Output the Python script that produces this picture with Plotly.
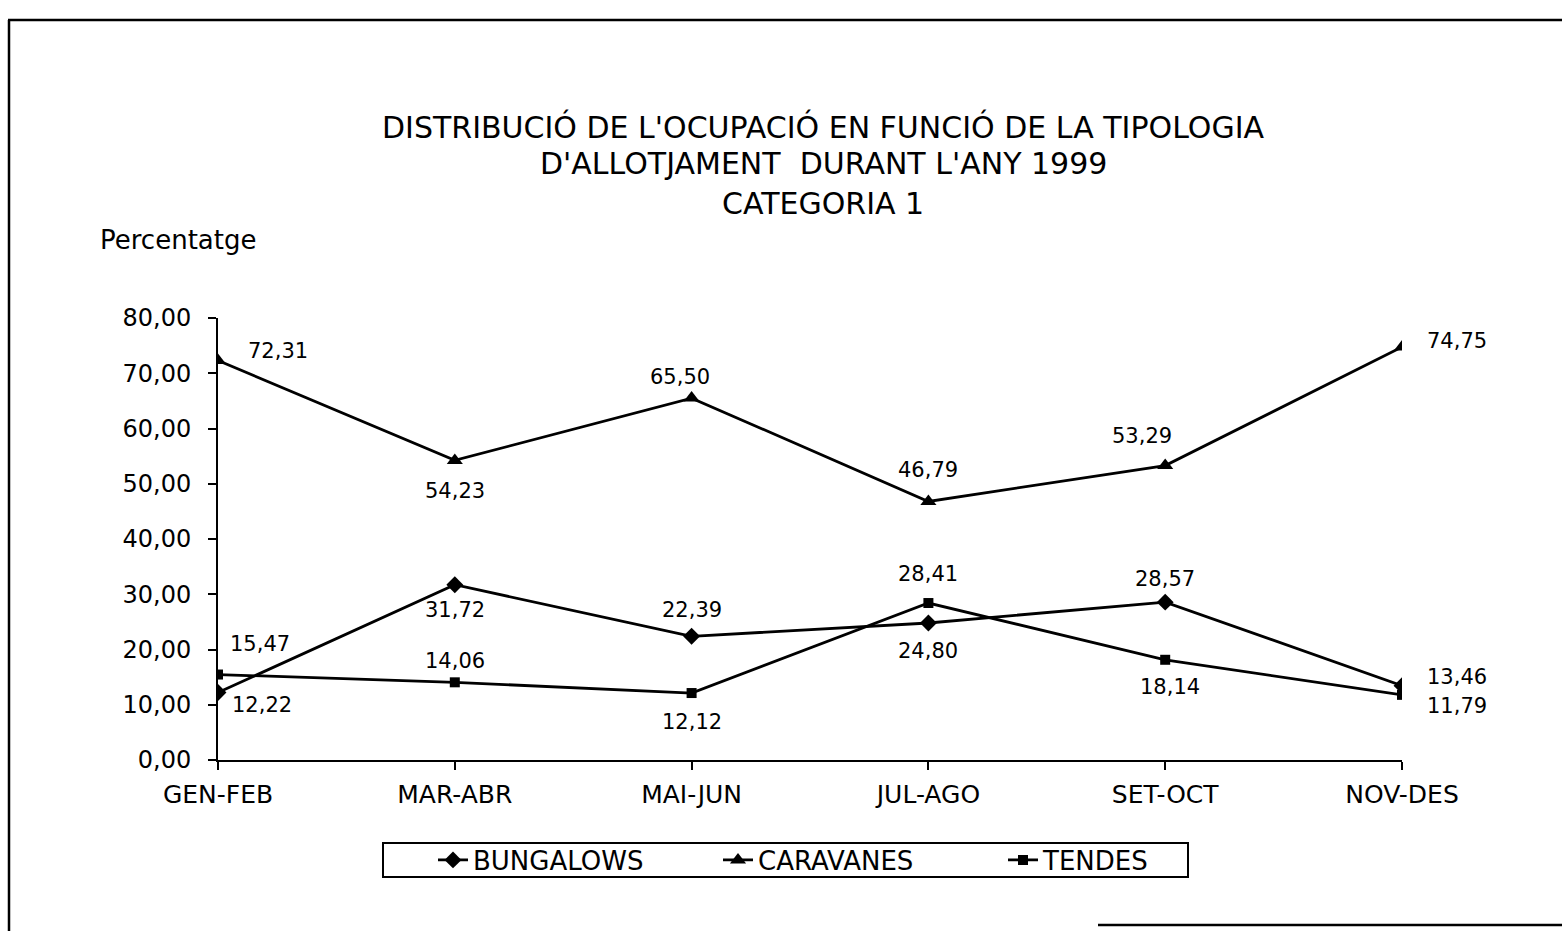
import plotly.graph_objects as go

# Bimonthly periods and occupancy share (%) per accommodation type, 1999, category 1
periods = ["GEN-FEB", "MAR-ABR", "MAI-JUN", "JUL-AGO", "SET-OCT", "NOV-DES"]
bungalows = [12.22, 31.72, 22.39, 24.80, 28.57, 13.46]
caravanes = [72.31, 54.23, 65.50, 46.79, 53.29, 74.75]
tendes = [15.47, 14.06, 12.12, 28.41, 18.14, 11.79]
y_ticks = [0, 10, 20, 30, 40, 50, 60, 70, 80]

title_lines = [
    "DISTRIBUCIÓ DE L'OCUPACIÓ EN FUNCIÓ DE LA TIPOLOGIA",
    "D'ALLOTJAMENT  DURANT L'ANY 1999",
    "CATEGORIA 1",
]

W, H = 1562, 931
L, R, T, B = 218, 1402, 318, 760
FONT = "DejaVu Sans"


def px2x(p):
    return (p - L) / (R - L)


def px2y(p):
    return (B - p) / (B - T)


# label placement per series: (xanchor, xshift, yshift) for each point
label_place = {
    "BUNGALOWS": [("left", 12, -13), ("center", 0, -25), ("center", 0, 26),
                  ("center", 0, -28), ("center", 0, 23), ("left", 23, 9)],
    "CARAVANES": [("left", 28, 9), ("center", 0, -31), ("center", -12, 21),
                  ("center", 0, 31), ("center", -23, 30), ("left", 23, 6)],
    "TENDES": [("left", 10, 31), ("center", 0, 21), ("center", 0, -29),
               ("center", 0, 29), ("center", 5, -27), ("left", 23, -11)],
}

series = [
    ("BUNGALOWS", bungalows, "diamond", 13),
    ("CARAVANES", caravanes, "triangle-up", 14),
    ("TENDES", tendes, "square", 10),
]

fig = go.Figure()
annotations = []
for name, vals, sym, size in series:
    fig.add_trace(go.Scatter(
        x=periods, y=vals, name=name, mode="lines+markers",
        line=dict(color="black", width=2.8),
        marker=dict(symbol=sym, size=size, color="black"),
    ))
    for (xa, xs, ys), xcat, v in zip(label_place[name], periods, vals):
        annotations.append(dict(
            x=xcat, y=v, xref="x", yref="y", showarrow=False,
            text=f"{v:.2f}".replace(".", ","),
            xanchor=xa, yanchor="middle", xshift=xs, yshift=ys,
            font=dict(family=FONT, size=21, color="black"),
        ))

title_y = [127, 164, 203]
for line, yp in zip(title_lines, title_y):
    annotations.append(dict(
        x=px2x(823), y=px2y(yp), xref="paper", yref="paper", showarrow=False,
        text=line, xanchor="center", yanchor="middle",
        font=dict(family=FONT, size=30, color="black"),
    ))

annotations.append(dict(
    x=px2x(98), y=px2y(240), xref="paper", yref="paper", showarrow=False,
    text="Percentatge", xanchor="left", yanchor="middle",
    font=dict(family=FONT, size=26, color="black"),
))

# outer chart frame
frame_lines = [
    (8, 20, W + 5, 20),
    (9, 20, 9, H + 5),
    (1098, 925, W + 5, 925),
]
shapes = [
    dict(type="line", xref="paper", yref="paper",
         x0=px2x(x0), y0=px2y(y0), x1=px2x(x1), y1=px2y(y1),
         line=dict(color="black", width=2.5))
    for x0, y0, x1, y1 in frame_lines
]
# legend box
shapes.append(dict(
    type="rect", xref="paper", yref="paper",
    x0=px2x(383), y0=px2y(843), x1=px2x(1188), y1=px2y(877),
    line=dict(color="black", width=2), fillcolor="rgba(0,0,0,0)",
))

fig.update_layout(
    width=W, height=H,
    margin=dict(l=L, r=W - R, t=T, b=H - B),
    paper_bgcolor="white", plot_bgcolor="white",
    separators=",.",
    font=dict(family=FONT, color="black"),
    showlegend=True,
    legend=dict(
        orientation="h", x=px2x(433), y=px2y(860),
        xanchor="left", yanchor="middle",
        borderwidth=0, bgcolor="rgba(0,0,0,0)",
        font=dict(family=FONT, size=26, color="black"),
        entrywidth=240, entrywidthmode="pixels",
    ),
    annotations=annotations,
    shapes=shapes,
)

fig.update_xaxes(
    type="category", range=[0, len(periods) - 1],
    showline=True, linecolor="black", linewidth=2,
    ticks="outside", ticklen=8, tickwidth=2, tickcolor="black",
    tickmode="array", tickvals=periods, ticktext=periods,
    ticklabelstandoff=3,
    tickfont=dict(family=FONT, size=25, color="black"),
    showgrid=False, zeroline=False, fixedrange=True,
)
fig.update_yaxes(
    range=[0, 80],
    showline=True, linecolor="black", linewidth=2,
    ticks="outside", ticklen=8, tickwidth=2, tickcolor="black",
    tickmode="array", tickvals=y_ticks, tickformat=".2f",
    ticklabelstandoff=12,
    tickfont=dict(family=FONT, size=24, color="black"),
    showgrid=False, zeroline=False, fixedrange=True,
)

fig.write_html("out.html")
